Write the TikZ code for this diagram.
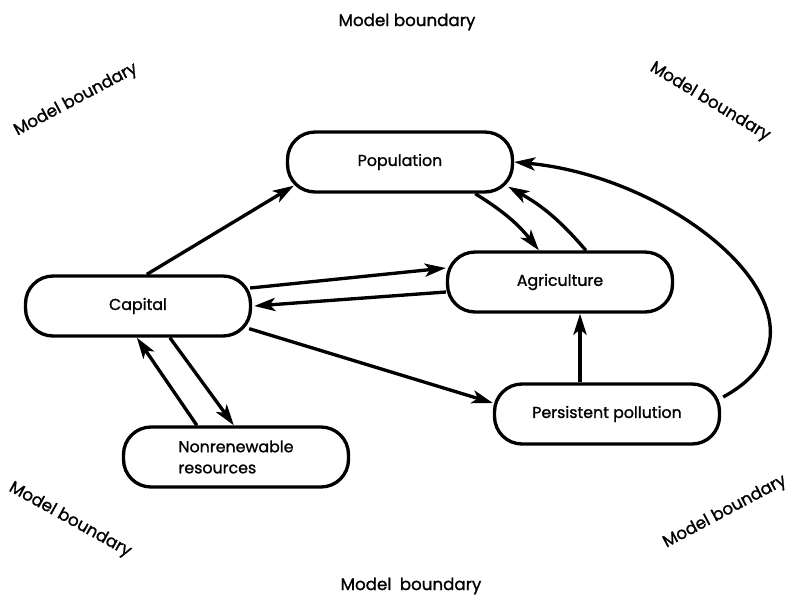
\documentclass[tikz,border=0pt]{standalone}
\usepackage{fontspec}
\setmainfont{Poppins}[FakeBold=1.2]
\usetikzlibrary{arrows.meta}

\begin{document}
\begin{tikzpicture}[x=0.02cm,y=0.02cm,>={Stealth[length=12pt,width=7.5pt,inset=3pt]},line width=1.9pt,
 every node/.style={font=\fontsize{9}{12}\selectfont},
 box/.style={draw,rounded corners=0.55cm,minimum width=4.5cm,minimum height=1.2cm,inner sep=2pt},
 bound/.style={font=\fontsize{9.5}{11}\selectfont}]
\useasboundingbox (0,0) rectangle (793,600);
% sectors
\node[box](pop) at (400,438){Population};
\node[box](agri) at (560,318){Agriculture};
\node[box](cap) at (138,294){Capital};
\node[box](poll) at (607,186){Persistent pollution};
\node[box,align=left](nonr) at (236,143){Nonrenewable\\resources};
% boundary labels
\node[bound](mbt) at (407,578){Model boundary};
\node[bound,rotate=28](mbtl) at (76,500){Model boundary};
\node[bound,rotate=-31](mbtr) at (710,498){Model boundary};
\node[bound,rotate=-29](mbbl) at (70,80){Model boundary};
\node[bound,rotate=28](mbbr) at (725,88){Model boundary};
\node[bound](mbb) at (411,14){Model\enspace boundary};
% links
\draw[->]([shift={(123,0)}]cap.north west)--([shift={(8,8)}]pop.south west);
\draw[->]([shift={(-39,0)}]pop.south east) to[bend left=10] ([shift={(93,0)}]agri.north west);
\draw[->]([shift={(140,0)}]agri.north west) to[bend right=10] ([shift={(-6,7)}]pop.south east);
\draw[->]([shift={(-2,18)}]cap.east)--([shift={(0,14)}]agri.west);
\draw[->]([shift={(0,-10)}]agri.west)--([shift={(2,0)}]cap.east);
\draw[->]([shift={(-3,9)}]cap.south east)--([shift={(0,11)}]poll.west);
\draw[->]([shift={(-27,0)}]poll.north)--([shift={(20,0)}]agri.south);
\draw[->]([shift={(2,17)}]poll.east) .. controls (855,275) and (685,422) .. (pop.east);
\draw[->]([shift={(75,0)}]nonr.north west)--([shift={(113,0)}]cap.south west);
\draw[->]([shift={(146,0)}]cap.south west)--([shift={(112,0)}]nonr.north west);
\end{tikzpicture}
\end{document}
